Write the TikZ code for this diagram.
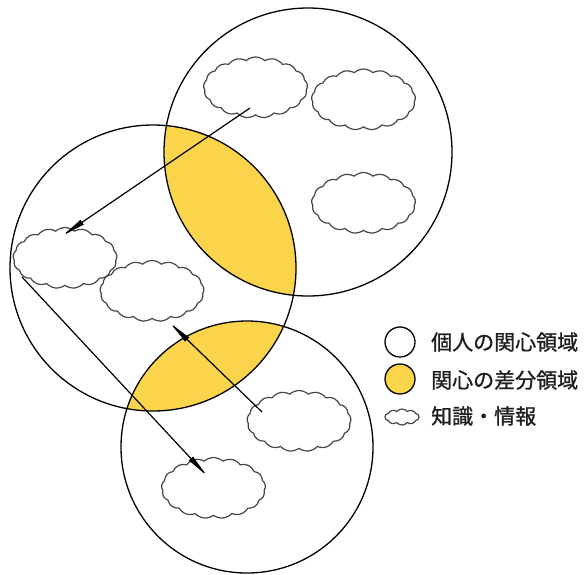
\documentclass[tikz,border=0pt]{standalone}
\usepackage{fontspec}
\newfontfamily\cjk[FakeBold=1]{Noto Sans CJK JP}
\usetikzlibrary{shapes.symbols,arrows.meta}
\definecolor{lensyellow}{RGB}{250,212,75}
\definecolor{cloudgray}{RGB}{70,70,70}
\definecolor{textgray}{RGB}{30,30,30}
\begin{document}
\begin{tikzpicture}[x=1pt,y=-1pt,
  ring/.style={circle,draw=black,line width=1.3pt,inner sep=0pt},
  knowledge/.style={cloud, cloud puffs=17, cloud puff arc=85, cloud ignores aspect,
    draw=cloudgray, fill=white, line width=1.2pt, minimum width=104pt,
    minimum height=61pt, inner sep=0pt},
  flow/.style={draw=black, line width=1.2pt, -{Latex[length=28pt,width=6pt]}},
  legendtext/.style={anchor=west, font=\cjk\fontsize{21}{24}\selectfont,
    text=textgray, inner sep=0pt}]

\useasboundingbox (0,0) rectangle (585,574);
\fill[white] (0,0) rectangle (585,574);

% overlap areas
\begin{scope}
  \clip (308,152) circle[radius=144pt];
  \fill[lensyellow] (153,268) circle[radius=143pt];
\end{scope}
\begin{scope}
  \clip (247,447) circle[radius=126pt];
  \fill[lensyellow] (153,268) circle[radius=143pt];
\end{scope}

% personal regions
\node[ring, minimum size=288pt] (regA) at (308,152) {};
\node[ring, minimum size=286pt] (regB) at (153,268) {};
\node[ring, minimum size=252pt] (regC) at (247,447) {};

% knowledge clouds
\node[knowledge] (k1) at (255.5,87.5) {};
\node[knowledge] (k2) at (363.5,99.5) {};
\node[knowledge] (k3) at (363.5,203) {};
\node[knowledge] (k4) at (65,258) {};
\node[knowledge] (k5) at (152,291) {};
\node[knowledge] (k6) at (299,421) {};
\node[knowledge] (k7) at (213.5,488) {};

% arrows
\coordinate (s1) at (250,108);
\coordinate (e1) at (59,238);
\coordinate (s2) at (22,277);
\coordinate (e2) at (210,479);
\coordinate (s3) at (262,412);
\coordinate (e3) at (167,320);
\draw[flow] (s1) -- (e1);
\draw[flow] (s2) -- (e2);
\draw[flow] (s3) -- (e3);

% legend
\node[ring, minimum size=30pt] (legA) at (400,342) {};
\node[ring, fill=lensyellow, minimum size=30pt] (legB) at (400,379) {};
\node[knowledge, minimum width=34pt, minimum height=16pt, cloud puffs=10, cloud puff arc=100] (legC) at (402,417) {};
\node[legendtext] (txtA) at (431,342) {個人の関心領域};
\node[legendtext] (txtB) at (431,380) {関心の差分領域};
\node[legendtext] (txtC) at (431,416) {知識・情報};
\end{tikzpicture}
\end{document}
